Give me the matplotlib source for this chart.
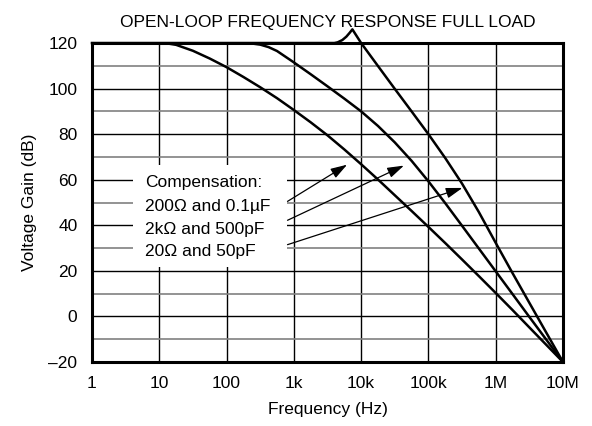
#!/usr/bin/python

#################################
# preparation
#################################
import matplotlib
matplotlib.use("Agg")
from matplotlib import pyplot as plt
from matplotlib.ticker import MultipleLocator, NullLocator, FixedLocator
from matplotlib.patches import Rectangle

plt.rcParams['font.family'] = ['Liberation Sans', 'DejaVu Sans']
fsize = 12.5

#################################
# data
#################################
# 200 ohm and 0.1uF
freq_200 = [1, 10, 13.3, 17.8, 31.6, 56.2, 100, 178, 316, 562, 1e3, 1.78e3, 3.16e3, 5.62e3,
            1e4, 1.78e4, 3.16e4, 5.62e4, 1e5, 1.78e5, 3.16e5, 5.62e5,
            1e6, 1.78e6, 3.16e6, 5.62e6, 1e7]
gain_200 = [120, 120, 119.8, 119.2, 116.6, 113.2, 109.4, 105.1, 100.6, 95.8, 90.6, 85.2, 79.5, 73.3,
            66.8, 60.1, 53.2, 46.3, 39.3, 32.2, 25, 17.7,
            10.3, 2.8, -4.8, -12.4, -20]

# 2k ohm and 500pF
freq_2k = [1, 178, 237, 316, 422, 562, 1e3, 1.78e3, 3.16e3, 5.62e3,
           1e4, 1.78e4, 3.16e4, 5.62e4, 1e5, 1.78e5, 3.16e5, 5.62e5,
           1e6, 1.78e6, 3.16e6, 5.62e6, 1e7]
gain_2k = [120, 120, 119.8, 119.3, 118.2, 116.5, 111.5, 106.3, 101, 95.6,
           90, 83.6, 76.4, 68.3, 59.3, 49.7, 39.8, 29.8,
           19.8, 9.8, -0.2, -10.1, -20]

# 20 ohm and 50pF (with the peak above 120 dB)
freq_20 = [1, 4000, 4470, 5250, 6030, 6760, 7410,
           1e4, 1.78e4, 3.16e4, 5.62e4, 1e5, 1.78e5, 3.16e5, 5.62e5,
           1e6, 1.78e6, 3.16e6, 5.62e6, 1e7]
gain_20 = [120, 120, 120.3, 121.3, 122.8, 124.5, 126,
           120, 109.9, 99.9, 90, 80, 69.5, 58.3, 45.8,
           32.3, 19, 6, -7, -20]

# ticks
xticks = [1, 10, 100, 1e3, 1e4, 1e5, 1e6, 1e7]
xlabels = ["1", "10", "100", "1k", "10k", "100k", "1M", "10M"]
yticks = [-20, 0, 20, 40, 60, 80, 100, 120]
ylabels = ["\u201320", "0", "20", "40", "60", "80", "100", "120"]

# legend text
comp_lines = ["Compensation:", "200\u03a9 and 0.1\u00b5F", "2k\u03a9 and 500pF", "20\u03a9 and 50pF"]
comp_y = [58.7, 48.2, 38.1, 28.4]
# arrows: tail (x, y) -> tip (x, y)
arrow_tail = [(805, 50.5), (805, 42.2), (805, 31.5)]
arrow_tip = [(6180, 66.6), (43150, 66.2), (320000, 56.4)]

#################################
# plot
#################################
fig = plt.figure(figsize=(5.92, 4.26), dpi=100)
ax = fig.add_axes([0.1554, 0.1502, 0.7956, 0.7488])

ax.set_xscale("log")
ax.set_xlim(1, 1e7)
ax.set_ylim(-20, 120)
ax.xaxis.set_major_locator(FixedLocator(xticks))
ax.xaxis.set_minor_locator(NullLocator())
ax.set_xticklabels(xlabels)
ax.yaxis.set_major_locator(FixedLocator(yticks))
ax.yaxis.set_minor_locator(MultipleLocator(10))
ax.set_yticklabels(ylabels)
ax.tick_params(which="both", length=0, labelsize=fsize)
ax.tick_params(axis="x", pad=10)
ax.tick_params(axis="y", pad=10.5)

ax.grid(which="major", color="black", linewidth=1.0)
ax.grid(which="minor", axis="y", color="#808080", linewidth=1.2)
ax.set_axisbelow(True)

for sp in ax.spines.values():
    sp.set_linewidth(2.2)
    sp.set_zorder(5)

# white box behind the legend text
ax.add_patch(Rectangle((4.07, 21.5), 795 - 4.07, 66.4 - 21.5,
                       facecolor="white", edgecolor="none", zorder=1))

ax.plot(freq_200, gain_200, color="black", linewidth=1.8, zorder=3)
ax.plot(freq_2k, gain_2k, color="black", linewidth=1.8, zorder=3)
ax.plot(freq_20, gain_20, color="black", linewidth=1.8, zorder=3, clip_on=False)

for txt, yy in zip(comp_lines, comp_y):
    ax.text(6.1, yy, txt, fontsize=fsize, va="center", ha="left", zorder=4)

for tail, tip in zip(arrow_tail, arrow_tip):
    ax.annotate("", xy=tip, xytext=tail,
                arrowprops=dict(arrowstyle="-|>,head_length=1.0,head_width=0.32",
                                color="black", linewidth=0.9, shrinkA=0, shrinkB=0),
                zorder=4)

ax.set_title("OPEN-LOOP FREQUENCY RESPONSE FULL LOAD", fontsize=fsize, pad=11.5)
ax.set_xlabel("Frequency (Hz)", fontsize=fsize, labelpad=8)
ax.set_ylabel("Voltage Gain (dB)", fontsize=fsize, labelpad=8)

fig.savefig("out.png", dpi=100)
